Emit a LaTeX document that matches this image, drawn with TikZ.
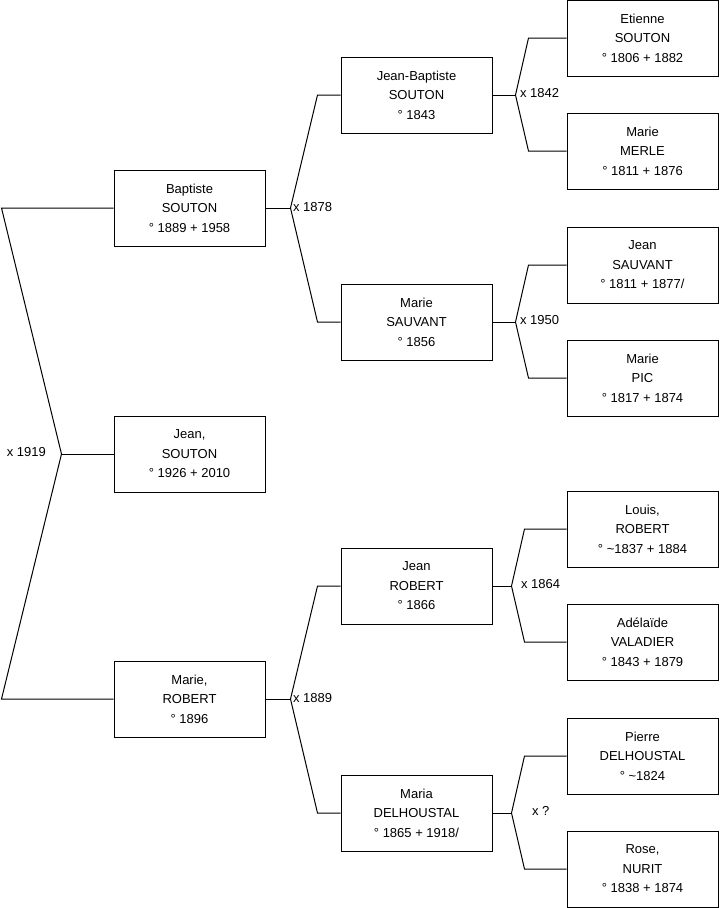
\documentclass[tikz,border=0pt]{standalone}
\usepackage{fontspec}
\setmainfont{Liberation Sans}
\usetikzlibrary{positioning,calc}

\begin{document}
\begin{tikzpicture}[x=0.75pt,y=-0.75pt]
  \tikzstyle{person}=[draw,line width=0.75pt,minimum width=113.25pt,minimum height=57pt,align=center,inner sep=0pt,font=\fontsize{9.75}{14.6}\selectfont]
  \tikzstyle{link}=[line width=0.75pt]
  \tikzstyle{wed}=[inner sep=1pt,font=\fontsize{9.75}{12}\selectfont]
  \useasboundingbox (0,0) rectangle (719,908);
  % ego
  \node[person] (jean) at (189.5,454) {Jean,\\SOUTON\\° 1926 + 2010};
  % parents
  \node[person] (bapt) at (189.5,208) {Baptiste\\SOUTON\\° 1889 + 1958};
  \node[person] (marie) at (189.5,699) {Marie,\\ROBERT\\° 1896};
  % grand-parents
  \node[person] (jbs) at (416.5,95) {Jean-Baptiste\\SOUTON\\° 1843};
  \node[person] (msv) at (416.5,322) {Marie\\SAUVANT\\° 1856};
  \node[person] (jrb) at (416.5,586) {Jean\\ROBERT\\° 1866};
  \node[person] (mdh) at (416.5,813) {Maria\\DELHOUSTAL\\° 1865 + 1918/};
  % great-grand-parents
  \node[person] (ets) at (642.5,38) {Etienne\\SOUTON\\° 1806 + 1882};
  \node[person] (mme) at (642.5,151) {Marie\\MERLE\\° 1811 + 1876};
  \node[person] (jsv) at (642.5,265) {Jean\\SAUVANT\\° 1811 + 1877/};
  \node[person] (mpi) at (642.5,378) {Marie\\PIC\\° 1817 + 1874};
  \node[person] (lrb) at (642.5,529) {Louis,\\ROBERT\\° \textasciitilde1837 + 1884};
  \node[person] (ava) at (642.5,642) {Adélaïde\\VALADIER\\° 1843 + 1879};
  \node[person] (pdh) at (642.5,756) {Pierre\\DELHOUSTAL\\° \textasciitilde1824};
  \node[person] (rnu) at (642.5,869) {Rose,\\NURIT\\° 1838 + 1874};

  % marriages
  \coordinate (m0) at ($(jean.west)+(-52,0)$);
  \coordinate (m1) at ($(bapt.east)+(25,0)$);
  \coordinate (m2) at ($(marie.east)+(25,0)$);
  \coordinate (m3) at ($(jbs.east)+(23,0)$);
  \coordinate (m4) at ($(msv.east)+(23,0)$);
  \coordinate (m5) at ($(jrb.east)+(19,0)$);
  \coordinate (m6) at ($(mdh.east)+(19,0)$);

  \draw[link] (jean.west) -- (m0);
  \draw[link] (bapt.west) -- ++(-112,0) -- (m0) -- ($(marie.west)+(-112,0)$) -- (marie.west);
  \draw[link] (bapt.east) -- (m1);
  \draw[link] (jbs.west) -- ++(-23,0) -- (m1) -- ($(msv.west)+(-23,0)$) -- (msv.west);
  \draw[link] (marie.east) -- (m2);
  \draw[link] (jrb.west) -- ++(-23,0) -- (m2) -- ($(mdh.west)+(-23,0)$) -- (mdh.west);
  \draw[link] (jbs.east) -- (m3);
  \draw[link] (ets.west) -- ++(-38,0) -- (m3) -- ($(mme.west)+(-38,0)$) -- (mme.west);
  \draw[link] (msv.east) -- (m4);
  \draw[link] (jsv.west) -- ++(-38,0) -- (m4) -- ($(mpi.west)+(-38,0)$) -- (mpi.west);
  \draw[link] (jrb.east) -- (m5);
  \draw[link] (lrb.west) -- ++(-42,0) -- (m5) -- ($(ava.west)+(-42,0)$) -- (ava.west);
  \draw[link] (mdh.east) -- (m6);
  \draw[link] (pdh.west) -- ++(-42,0) -- (m6) -- ($(rnu.west)+(-42,0)$) -- (rnu.west);

  \node[wed,anchor=east] (w0) at ($(m0)+(-14,-2)$) {x 1919};
  \node[wed,anchor=west] (w1) at ($(m1)+(1,-1)$) {x 1878};
  \node[wed,anchor=west] (w2) at ($(m2)+(1,-1)$) {x 1889};
  \node[wed,anchor=west] (w3) at ($(m3)+(3,-2)$) {x 1842};
  \node[wed,anchor=west] (w4) at ($(m4)+(3,-2)$) {x 1950};
  \node[wed,anchor=west] (w5) at ($(m5)+(8,-2)$) {x 1864};
  \node[wed,anchor=west] (w6) at ($(m6)+(19,-2)$) {x ?};
\end{tikzpicture}
\end{document}
